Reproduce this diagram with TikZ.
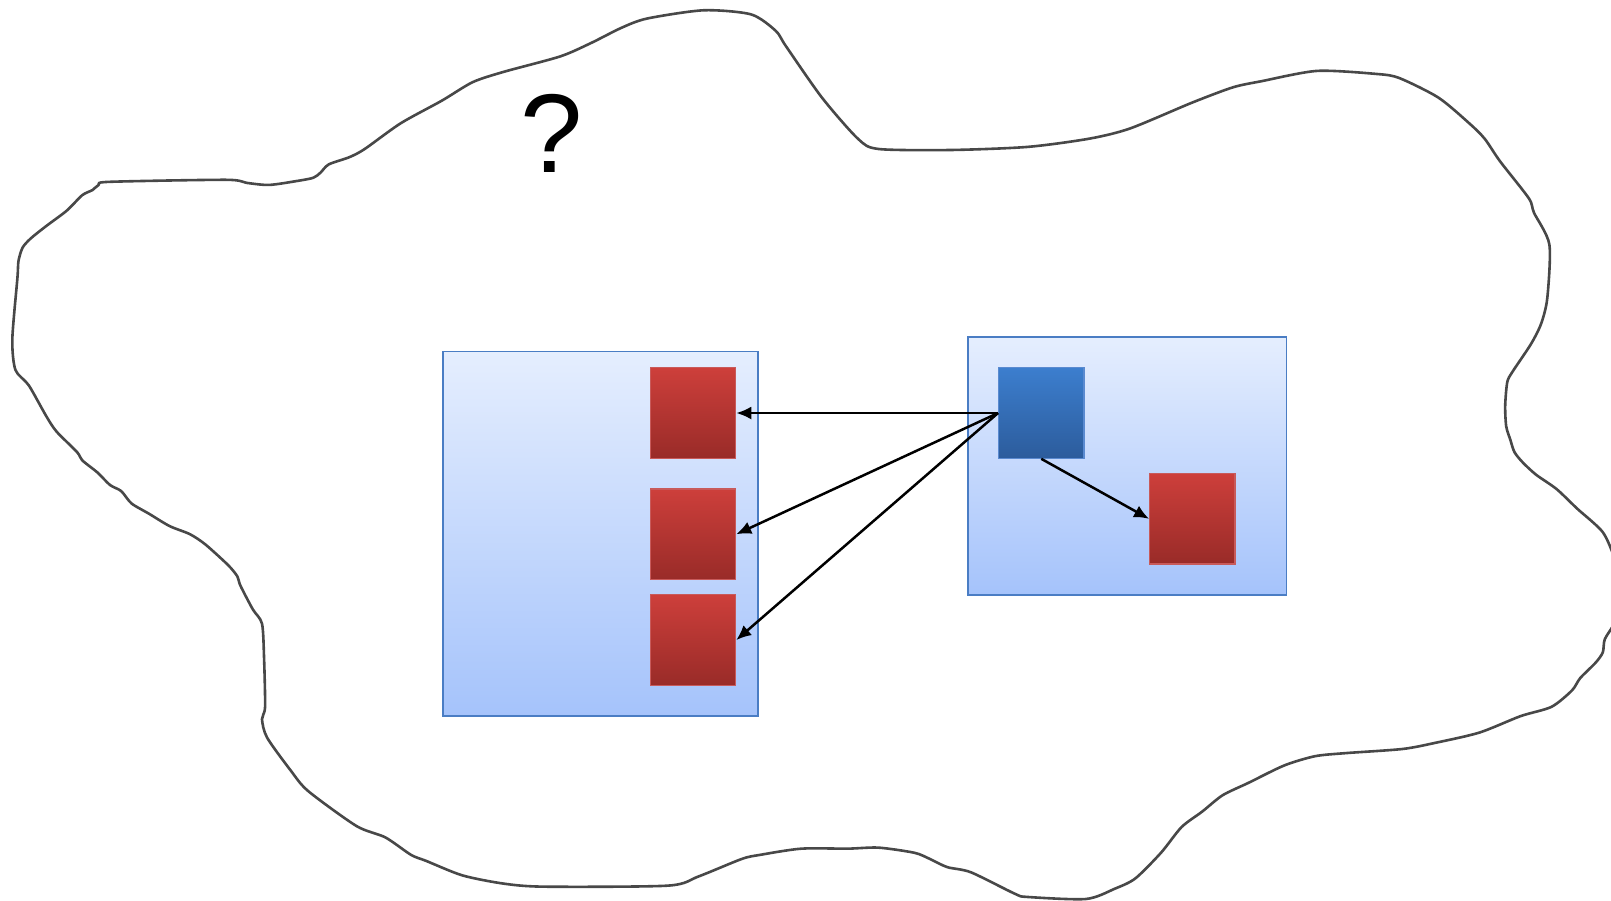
\documentclass[tikz,border=0pt]{standalone}
\usepackage{fontspec}
\setmainfont{Liberation Sans}
\usetikzlibrary{arrows.meta}
\definecolor{cloudline}{HTML}{484848}
\definecolor{contTop}{HTML}{E5EEFE}
\definecolor{contBot}{HTML}{A5C3FB}
\definecolor{contLine}{HTML}{4A7DC4}
\definecolor{redTop}{HTML}{CD3F3B}
\definecolor{redBot}{HTML}{992B28}
\definecolor{redLine}{HTML}{C85A5A}
\definecolor{blueTop}{HTML}{3C7ECE}
\definecolor{blueBot}{HTML}{2C5C9C}
\definecolor{blueLine}{HTML}{5A8AD0}
\tikzset{
  container/.style={rectangle, draw=contLine, line width=1.6pt, top color=contTop, bottom color=contBot, inner sep=0pt},
  redbox/.style={rectangle, draw=redLine, line width=1.2pt, top color=redTop, bottom color=redBot, minimum width=85.3pt, minimum height=90.4pt, inner sep=0pt},
  bluebox/.style={rectangle, draw=blueLine, line width=1.2pt, top color=blueTop, bottom color=blueBot, minimum width=85.3pt, minimum height=90.4pt, inner sep=0pt},
  link/.style={line width=2.5pt, -{Latex[length=15pt,width=13pt]}},
  cloud/.style={draw=cloudline, line width=2.6pt, line join=round}
}
\begin{document}
\begin{tikzpicture}[x=1.0274pt, y=-1.0274pt]
\useasboundingbox (0,0) rectangle (1568,876);
\begin{scope}
\clip (0,0) rectangle (1568,876);
\fill[white] (0,0) rectangle (1568,876);
\draw[cloud] plot[smooth cycle, tension=0.45] coordinates {
(685,10) (731,14) (755,30) (765,45) (800,95) (835,135) (855,145) (925,146)
(1000,143) (1060,135) (1100,125) (1160,100) (1200,85) (1228,79) (1282,69)
(1340,72) (1362,76) (1400,95) (1430,120) (1445,135) (1460,157) (1488,193) (1493,207) (1508,238)
(1506,290) (1500,315) (1490,335) (1472,362) (1467,372) (1465,395) (1466,415) (1470,428)
(1474,440) (1482,450) (1495,462) (1515,476) (1535,495) (1560,518) (1572,545) (1580,575) (1572,605)
(1562,622) (1560,635) (1553,645) (1538,660) (1530,672) (1510,688) (1480,697) (1440,713)
(1397,723) (1365,729) (1310,733) (1280,736) (1250,745) (1215,762) (1190,774) (1170,790)
(1150,805) (1130,830) (1105,855) (1085,865) (1057,875) (1000,873) (988,870) (945,849)
(922,844) (905,836) (890,830) (855,825) (825,826) (780,826) (740,832) (722,836)
(680,853) (650,862) (530,863) (490,860) (450,852) (415,838) (400,832) (375,815)
(347,804) (300,770) (283,750) (260,718) (255,700) (258,688) (257,640) (255,607)
(246,593) (234,570) (231,561) (222,550) (200,530) (185,520) (165,512) (145,500)
(128,490) (118,478) (107,472) (95,460) (80,448) (75,440) (55,420) (45,405)
(28,375) (15,360) (12,330) (17,270) (18,254) (22,241) (30,232) (45,220)
(65,205) (80,190) (90,185) (96,180) (106,177) (220,175) (240,178) (262,180)
(290,176) (305,173) (312,168) (320,160) (340,153) (355,145) (390,120) (430,98)
(460,80) (490,70) (545,55) (575,42) (605,27) (630,18)
};
\end{scope}

\node (q) at (537,130) {\fontsize{112}{112}\selectfont ?};

\node[container, minimum width=315.4pt, minimum height=364.7pt] (left) at (584.5,519.5) {};
\node[container, minimum width=318.5pt, minimum height=257.9pt] (right) at (1097,453.5) {};

\node[redbox] (r1) at (674.5,402) {};
\node[redbox] (r2) at (674.5,520) {};
\node[redbox] (r3) at (674.5,623) {};
\node[redbox] (r4) at (1160.5,505) {};
\node[bluebox] (b) at (1013.5,402) {};

\draw[link] (b.west) -- (r1.east);
\draw[link] (b.west) -- (r2.east);
\draw[link] (b.west) -- (r3.east);
\draw[link] (b.south) -- (r4.west);
\end{tikzpicture}
\end{document}
